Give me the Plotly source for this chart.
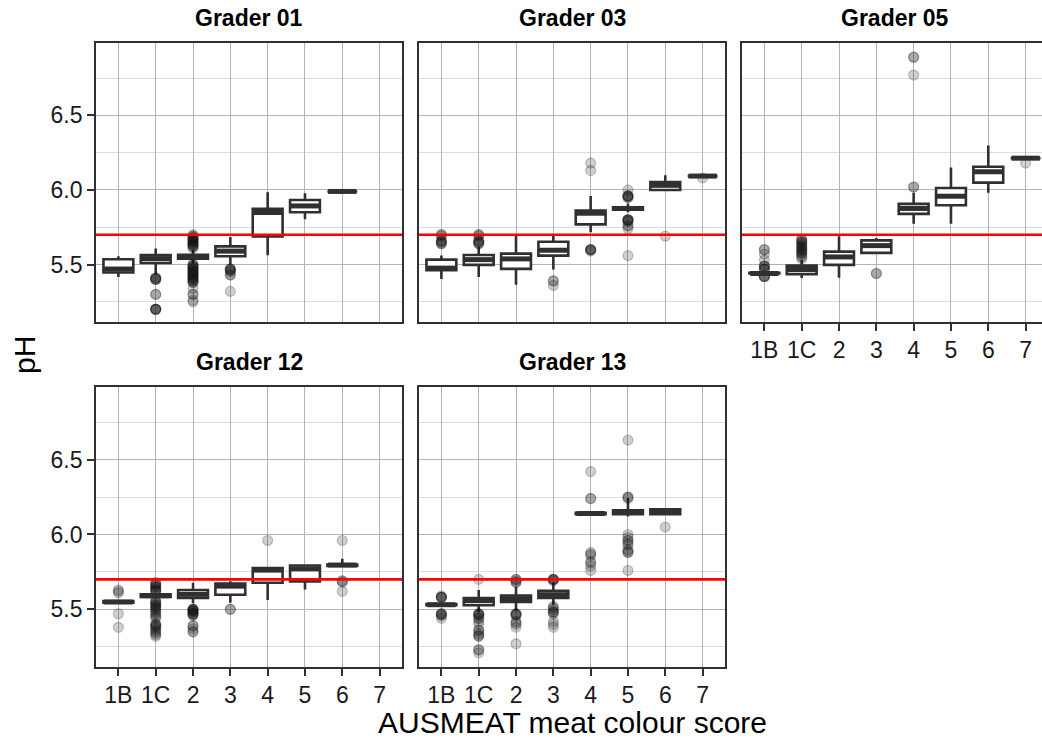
import plotly.graph_objects as go

CATEGORIES = ["1B", "1C", "2", "3", "4", "5", "6", "7"]
GRADERS = ["Grader 01", "Grader 03", "Grader 05", "Grader 12", "Grader 13"]
PH_THRESHOLD = 5.7
Y_TICKS = [5.5, 6.0, 6.5]
Y_MINOR = [5.25, 5.75, 6.25, 6.75]

# Box-plot summaries: one row per grader (order of GRADERS), one column per
# colour score (order of CATEGORIES); None marks a score with no carcasses.
LOWER = [
    [5.416, 5.433, 5.505, 5.500, 5.562, 5.804, 5.990, None],
    [5.404, 5.416, 5.364, 5.467, 5.716, 5.850, 6.000, 6.093],
    [5.430, 5.410, 5.411, 5.578, 5.773, 5.773, 5.982, 6.213],
    [5.540, 5.570, 5.540, 5.544, 5.562, 5.633, 5.786, None],
    [5.520, 5.480, 5.490, 5.530, 6.130, 6.120, 6.136, None],
]
Q1 = [
    [5.447, 5.510, 5.540, 5.556, 5.689, 5.851, 5.990, None],
    [5.462, 5.498, 5.471, 5.560, 5.769, 5.868, 6.000, 6.093],
    [5.440, 5.436, 5.498, 5.578, 5.840, 5.898, 6.049, 6.213],
    [5.545, 5.583, 5.576, 5.598, 5.678, 5.687, 5.790, None],
    [5.527, 5.527, 5.549, 5.576, 6.136, 6.135, 6.136, None],
]
MEDIAN = [
    [5.470, 5.540, 5.553, 5.590, 5.849, 5.893, 5.990, None],
    [5.476, 5.533, 5.538, 5.596, 5.844, 5.876, 6.031, 6.093],
    [5.440, 5.467, 5.551, 5.627, 5.876, 5.958, 6.122, 6.213],
    [5.549, 5.591, 5.600, 5.655, 5.762, 5.770, 5.796, None],
    [5.531, 5.558, 5.571, 5.598, 6.140, 6.149, 6.158, None],
]
Q3 = [
    [5.536, 5.563, 5.566, 5.622, 5.873, 5.933, 5.990, None],
    [5.533, 5.564, 5.573, 5.653, 5.862, 5.884, 6.053, 6.093],
    [5.445, 5.493, 5.587, 5.662, 5.907, 6.013, 6.156, 6.213],
    [5.555, 5.600, 5.629, 5.673, 5.776, 5.793, 5.800, None],
    [5.535, 5.576, 5.593, 5.624, 6.145, 6.162, 6.169, None],
]
UPPER = [
    [5.556, 5.607, 5.600, 5.684, 5.984, 5.978, 5.990, None],
    [5.560, 5.620, 5.693, 5.693, 5.960, 5.910, 6.098, 6.093],
    [5.450, 5.530, 5.689, 5.678, 5.982, 6.151, 6.298, 6.213],
    [5.560, 5.610, 5.678, 5.687, 5.776, 5.793, 5.838, None],
    [5.540, 5.629, 5.650, 5.680, 6.150, 6.244, 6.175, None],
]

# Outlying pH readings per colour score
OUT_G01 = {
    "1C": [5.41, 5.41, 5.41, 5.40, 5.40, 5.40, 5.30, 5.30, 5.20, 5.20, 5.20, 5.20, 5.20],
    "2": [5.70, 5.69, 5.69, 5.68, 5.68, 5.67, 5.67, 5.66, 5.66, 5.65, 5.65, 5.64,
          5.64, 5.63, 5.63, 5.62, 5.62, 5.61, 5.50, 5.50, 5.49, 5.49, 5.48, 5.48,
          5.47, 5.47, 5.46, 5.46, 5.45, 5.45, 5.44, 5.44, 5.43, 5.43, 5.42, 5.42,
          5.41, 5.41, 5.40, 5.40, 5.39, 5.39, 5.38, 5.38, 5.34, 5.30, 5.30, 5.26, 5.25],
    "3": [5.47, 5.47, 5.47, 5.46, 5.46, 5.45, 5.43, 5.43, 5.32],
}
OUT_G03 = {
    "1B": [5.70, 5.70, 5.69, 5.66, 5.66, 5.65, 5.65, 5.64, 5.64],
    "1C": [5.70, 5.70, 5.69, 5.66, 5.66, 5.65, 5.65, 5.64, 5.64],
    "3": [5.39, 5.39, 5.36],
    "4": [6.18, 6.13, 5.60, 5.60, 5.60, 5.60, 5.59],
    "5": [6.00, 5.96, 5.96, 5.96, 5.96, 5.95, 5.95, 5.80, 5.80, 5.80, 5.80,
          5.79, 5.79, 5.76, 5.76, 5.74, 5.56],
    "6": [5.69],
    "7": [6.08],
}
OUT_G05 = {
    "1B": [5.60, 5.60, 5.57, 5.53, 5.49, 5.49, 5.49, 5.47, 5.47, 5.47,
           5.42, 5.42, 5.42, 5.42],
    "1C": [5.67, 5.67, 5.66, 5.65, 5.65, 5.64, 5.63, 5.62, 5.62, 5.61, 5.60,
           5.60, 5.59, 5.58, 5.58, 5.57, 5.56, 5.55, 5.54],
    "3": [5.44, 5.44],
    "4": [6.89, 6.89, 6.77, 6.02, 6.02],
    "7": [6.18],
}
OUT_G12 = {
    "1B": [5.63, 5.62, 5.61, 5.47, 5.38],
    "1C": [5.68, 5.67, 5.67, 5.66, 5.65, 5.65, 5.64, 5.63, 5.63, 5.62, 5.62,
           5.56, 5.55, 5.55, 5.54, 5.53, 5.53, 5.52, 5.51, 5.51, 5.50, 5.49,
           5.48, 5.47, 5.46, 5.45, 5.44, 5.40, 5.40, 5.39, 5.39, 5.38, 5.37,
           5.36, 5.35, 5.34, 5.33, 5.32],
    "2": [5.50, 5.50, 5.50, 5.50, 5.49, 5.49, 5.49, 5.48, 5.47, 5.47, 5.47,
          5.46, 5.46, 5.39, 5.39, 5.37, 5.35, 5.35],
    "3": [5.50, 5.50],
    "4": [5.96],
    "6": [5.96, 5.69, 5.69, 5.68, 5.62],
}
OUT_G13 = {
    "1B": [5.59, 5.58, 5.58, 5.58, 5.58, 5.47, 5.47, 5.47, 5.46, 5.46, 5.44],
    "1C": [5.70, 5.47, 5.47, 5.47, 5.46, 5.46, 5.44, 5.44, 5.42, 5.40, 5.36,
           5.36, 5.34, 5.33, 5.32, 5.32, 5.23, 5.23, 5.21],
    "2": [5.70, 5.70, 5.69, 5.68, 5.68, 5.47, 5.47, 5.47, 5.46, 5.46, 5.42,
          5.41, 5.40, 5.38, 5.27],
    "3": [5.70, 5.70, 5.70, 5.70, 5.69, 5.52, 5.51, 5.50, 5.49, 5.48, 5.48,
          5.47, 5.42, 5.40, 5.38],
    "4": [6.42, 6.24, 6.24, 5.88, 5.87, 5.86, 5.82, 5.81, 5.79, 5.76],
    "5": [6.63, 6.25, 6.25, 6.24, 6.00, 5.98, 5.96, 5.96, 5.94, 5.93,
          5.90, 5.89, 5.88, 5.88, 5.76],
    "6": [6.05],
}
OUTLIERS = [OUT_G01, OUT_G03, OUT_G05, OUT_G12, OUT_G13]

# ---- page geometry (pixels) ----
W, H = 1042, 742
COL_PX = [(96, 402), (419, 725), (742, 1042)]
ROW_PX = [(43, 322), (387, 667)]
PANEL_W = 306
X_LO, X_SPAN = 0.4, 8.2
PX_PER_UNIT = PANEL_W / X_SPAN
Y_RANGE = [5.115, 6.985]
PANELS = [(0, 0), (0, 1), (0, 2), (1, 0), (1, 1)]  # (row, col) of each grader

BOX_W = 0.8
LINE_COL = "#303030"
MAJOR_GRID = "#b4b4b4"
MINOR_GRID = "#dedede"
FONT = "Liberation Sans, Arial, sans-serif"
TICK_SIZE = 23
TITLE_SIZE = 30
STRIP_SIZE = 23

fig = go.Figure()
layout = dict(
    width=W, height=H,
    margin=dict(l=0, r=0, t=0, b=0),
    paper_bgcolor="white", plot_bgcolor="white",
    showlegend=False, template="none",
    font=dict(family=FONT, color="#1a1a1a"),
    shapes=[], annotations=[],
)

for i, (r, c) in enumerate(PANELS):
    k = "" if i == 0 else str(i + 1)
    xref, yref = "x" + k, "y" + k
    positions = list(range(1, len(CATEGORIES) + 1))

    # outliers (drawn first so boxes sit on top)
    ox, oy = [], []
    for cat, vals in OUTLIERS[i].items():
        p = CATEGORIES.index(cat) + 1
        ox += [p] * len(vals)
        oy += vals
    fig.add_trace(go.Scatter(
        x=ox, y=oy, mode="markers", xaxis=xref, yaxis=yref,
        marker=dict(size=10, color="rgba(20,20,20,0.2)",
                    line=dict(width=1.2, color="rgba(20,20,20,0.22)")),
        hoverinfo="skip"))

    idx = [j for j in range(len(CATEGORIES)) if MEDIAN[i][j] is not None]
    fig.add_trace(go.Box(
        x=[positions[j] for j in idx],
        lowerfence=[LOWER[i][j] for j in idx],
        q1=[Q1[i][j] for j in idx],
        median=[MEDIAN[i][j] for j in idx],
        q3=[Q3[i][j] for j in idx],
        upperfence=[UPPER[i][j] for j in idx],
        xaxis=xref, yaxis=yref, width=BOX_W, whiskerwidth=0,
        boxpoints=False, fillcolor="white",
        line=dict(color=LINE_COL, width=2.6), hoverinfo="skip"))

    # heavier median bar on every box
    mx, my = [], []
    for j in idx:
        mx += [positions[j] - BOX_W / 2 + 0.02, positions[j] + BOX_W / 2 - 0.02, None]
        my += [MEDIAN[i][j], MEDIAN[i][j], None]
    fig.add_trace(go.Scatter(
        x=mx, y=my, mode="lines", xaxis=xref, yaxis=yref,
        line=dict(color=LINE_COL, width=5), hoverinfo="skip"))

    x0, x1 = COL_PX[c]
    y0, y1 = ROW_PX[r]
    show_x = (r == 1) or (c == 2)
    show_y = c == 0
    layout["xaxis" + k] = dict(
        domain=[x0 / W, x1 / W], anchor=yref,
        range=[X_LO, X_LO + (x1 - x0) / PX_PER_UNIT],
        tickmode="array", tickvals=positions, ticktext=CATEGORIES,
        showticklabels=show_x, ticks="outside" if show_x else "",
        ticklen=7, tickwidth=1.5, tickcolor=LINE_COL,
        tickfont=dict(size=TICK_SIZE, color="#1a1a1a", family=FONT),
        showgrid=True, gridcolor=MAJOR_GRID, gridwidth=1, zeroline=False,
        showline=True, linecolor=LINE_COL, linewidth=1.7, mirror=True,
        automargin=False, fixedrange=True)
    layout["yaxis" + k] = dict(
        domain=[1 - y1 / H, 1 - y0 / H], anchor=xref, range=Y_RANGE,
        tickmode="array", tickvals=Y_TICKS, ticktext=[f"{v:.1f}" for v in Y_TICKS],
        showticklabels=show_y, ticks="outside" if show_y else "",
        ticklen=7, tickwidth=1.5, tickcolor=LINE_COL,
        tickfont=dict(size=TICK_SIZE, color="#1a1a1a", family=FONT),
        showgrid=True, gridcolor=MAJOR_GRID, gridwidth=1, zeroline=False,
        minor=dict(tickvals=Y_MINOR, showgrid=True, gridcolor=MINOR_GRID,
                   gridwidth=1, ticks=""),
        showline=True, linecolor=LINE_COL, linewidth=1.7, mirror=(c != 2),
        automargin=False, fixedrange=True)

    # threshold line
    layout["shapes"].append(dict(
        type="line", xref=xref + " domain", x0=0, x1=1, yref=yref,
        y0=PH_THRESHOLD, y1=PH_THRESHOLD, line=dict(color="#ff0000", width=2.6),
        layer="above"))

    # facet strip title
    cx = (x0 + x0 + PANEL_W) / 2
    layout["annotations"].append(dict(
        text=f"<b>{GRADERS[i]}</b>", xref="paper", yref="paper",
        x=cx / W, y=1 - (y0 - 25) / H, xanchor="center", yanchor="middle",
        showarrow=False, font=dict(size=STRIP_SIZE, color="#000000", family=FONT)))

layout["annotations"].append(dict(
    text="pH", xref="paper", yref="paper", x=24 / W, y=1 - 355 / H,
    xanchor="center", yanchor="middle", textangle=-90, showarrow=False,
    font=dict(size=TITLE_SIZE, color="#000000", family=FONT)))
layout["annotations"].append(dict(
    text="AUSMEAT meat colour score", xref="paper", yref="paper",
    x=572 / W, y=0, xanchor="center", yanchor="bottom", yshift=1,
    showarrow=False, font=dict(size=TITLE_SIZE, color="#000000", family=FONT)))

fig.update_layout(**layout)
fig.write_html("out.html", config={"displayModeBar": False})
